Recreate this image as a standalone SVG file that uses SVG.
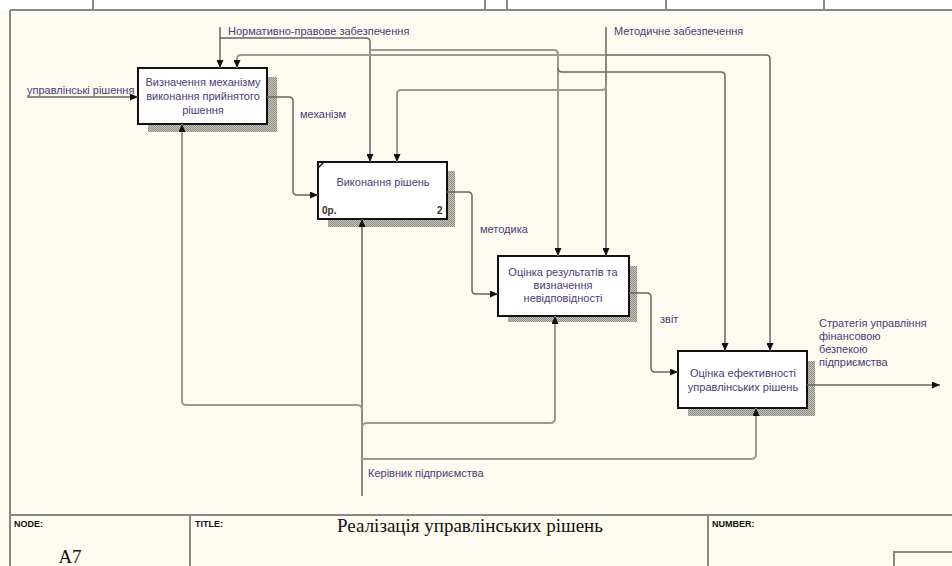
<svg xmlns="http://www.w3.org/2000/svg" width="952" height="566" viewBox="0 0 952 566">
<defs>
<style>
.lbl{font-family:"Liberation Sans",Arial,sans-serif;font-size:11px;fill:#4b3b78}
.btx{font-family:"Liberation Sans",Arial,sans-serif;font-size:11px;fill:#4b3b78;text-anchor:middle}
.cn{fill:none;stroke:#666;stroke-width:1.5}
.cg{fill:none;stroke:#9a9a94;stroke-width:2}
.box{fill:#fff;stroke:#111;stroke-width:2}
.shd{fill:url(#hatch)}
.hdr{font-family:"Liberation Sans",Arial,sans-serif;font-size:9px;font-weight:bold;fill:#111}
.frm{fill:none;stroke:#888;stroke-width:2}
.num{font-family:"Liberation Sans",Arial,sans-serif;font-size:10px;font-weight:bold;fill:#332}
</style>
<pattern id="hatch" width="2" height="2" patternUnits="userSpaceOnUse">
<rect width="2" height="2" fill="#c8c5bc"/>
<rect width="1" height="1" fill="#8f8c86"/>
<rect x="1" y="1" width="1" height="1" fill="#8f8c86"/>
</pattern>
<marker id="ar" markerWidth="8" markerHeight="7" refX="8" refY="3.5" orient="auto" markerUnits="userSpaceOnUse">
<path d="M0,0 L8,3.5 L0,7 z" fill="#111"/>
</marker>
</defs>
<rect width="952" height="566" fill="#fdfaf0"/>
<rect width="952" height="10" fill="#fff"/>
<g id="frame">
<line x1="10" y1="10" x2="952" y2="10" class="frm"/>
<line x1="10" y1="10" x2="10" y2="566" class="frm"/>
<line x1="93" y1="0" x2="93" y2="10" class="frm"/>
<line x1="485" y1="0" x2="485" y2="10" class="frm"/>
<line x1="507" y1="0" x2="507" y2="10" class="frm"/>
<line x1="666" y1="0" x2="666" y2="10" class="frm"/>
<line x1="824" y1="0" x2="824" y2="10" class="frm"/>
<line x1="10" y1="515" x2="952" y2="515" class="frm"/>
<line x1="190" y1="515" x2="190" y2="566" class="frm"/>
<line x1="708" y1="515" x2="708" y2="566" class="frm"/>
<path d="M894,566 L894,552 L952,552" class="frm"/>
<text x="14" y="527" class="hdr">NODE:</text>
<text x="195" y="527" class="hdr">TITLE:</text>
<text x="712" y="527" class="hdr">NUMBER:</text>
<text x="470" y="532" text-anchor="middle" font-family="'Liberation Serif','Times New Roman',serif" font-size="19" fill="#111">Реалізація управлінських рішень</text>
<text x="70" y="563" text-anchor="middle" font-family="'Liberation Serif','Times New Roman',serif" font-size="19" fill="#111">A7</text>
</g>
<g id="box1">
<rect x="148" y="77" width="129" height="55" class="shd"/>
<rect x="138" y="68" width="129" height="56" class="box"/>
<text x="203" y="86" class="btx">Визначення механізму</text>
<text x="203" y="100" class="btx">виконання прийнятого</text>
<text x="203" y="114" class="btx">рішення</text>
</g>
<g id="box2">
<rect x="328" y="171" width="127" height="56" class="shd"/>
<rect x="318" y="162" width="129" height="57" class="box"/>
<line x1="318" y1="168" x2="324" y2="162" stroke="#111" stroke-width="1.5"/>
<text x="383" y="186" class="btx">Виконання рішень</text>
<text x="322" y="214" class="num">0р.</text>
<text x="437" y="214" class="num">2</text>
</g>
<g id="box3">
<rect x="508" y="266" width="129" height="56" class="shd"/>
<rect x="498" y="256" width="131" height="60" class="box"/>
<text x="563" y="276" class="btx">Оцінка результатів та</text>
<text x="563" y="289" class="btx">визначення</text>
<text x="563" y="302" class="btx">невідповідності</text>
</g>
<g id="box4">
<rect x="688" y="361" width="127" height="55" class="shd"/>
<rect x="678" y="351" width="129" height="57" class="box"/>
<text x="743" y="377" class="btx">Оцінка ефективності</text>
<text x="743" y="391" class="btx">управлінських рішень</text>
</g>
<g id="connectors">
<path d="M220,27 L220,68" class="cn" marker-end="url(#ar)"/>
<path d="M220,38 L366,38 Q370,38 370,42 L370,162" class="cn" marker-end="url(#ar)"/>
<path d="M370,50 L554,50 Q558,50 558,54 L558,256" class="cg" marker-end="url(#ar)"/>
<path d="M558,68 Q558,72 562,72 L721,72 Q725,72 725,76 L725,351" class="cn" marker-end="url(#ar)"/>
<path d="M606,27 L606,256" class="cn" marker-end="url(#ar)"/>
<path d="M606,55 L241,55 Q237,55 237,59 L237,68" class="cg" marker-end="url(#ar)"/>
<path d="M606,55 L766,55 Q770,55 770,59 L770,351" class="cn" marker-end="url(#ar)"/>
<path d="M606,86 Q606,90 602,90 L401,90 Q397,90 397,94 L397,162" class="cg" marker-end="url(#ar)"/>
<path d="M27,97 L138,97" class="cn" marker-end="url(#ar)"/>
<path d="M267,97 L289,97 Q293,97 293,101 L293,191 Q293,195 297,195 L318,195" class="cn" marker-end="url(#ar)"/>
<path d="M447,192 L468,192 Q472,192 472,196 L472,290 Q472,294 476,294 L498,294" class="cn" marker-end="url(#ar)"/>
<path d="M629,293 L647,293 Q651,293 651,297 L651,368 Q651,372 655,372 L678,372" class="cn" marker-end="url(#ar)"/>
<path d="M807,385 L940,385" class="cn" marker-end="url(#ar)"/>
<path d="M362,496 L362,219" class="cn" marker-end="url(#ar)"/>
<path d="M362,410 Q362,405 357,405 L186,405 Q182,405 182,401 L182,124" class="cg" marker-end="url(#ar)"/>
<path d="M362,428 Q362,423 367,423 L550,423 Q555,423 555,418 L555,316" class="cg" marker-end="url(#ar)"/>
<path d="M362,459 L751,459 Q756,459 756,454 L756,408" class="cg" marker-end="url(#ar)"/>
<text x="228" y="35" class="lbl">Нормативно-правове забезпечення</text>
<text x="614" y="35" class="lbl">Методичне забезпечення</text>
<text x="27" y="94" class="lbl">управлінські рішення</text>
<text x="300" y="118" class="lbl">механізм</text>
<text x="480" y="233" class="lbl">методика</text>
<text x="660" y="323" class="lbl">звіт</text>
<text x="819" y="327" class="lbl">Стратегія управління</text>
<text x="819" y="340" class="lbl">фінансовою</text>
<text x="819" y="353" class="lbl">безпекою</text>
<text x="819" y="366" class="lbl">підприємства</text>
<text x="368" y="477" class="lbl">Керівник підприємства</text>
</g>
</svg>
